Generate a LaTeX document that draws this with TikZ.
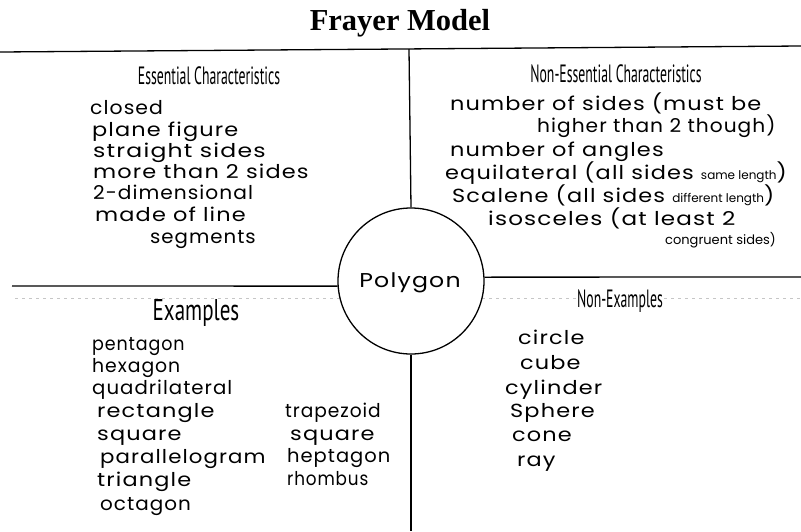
\documentclass[tikz,border=0pt]{standalone}
\usepackage{fontspec}
\usepackage{graphicx}
\setmainfont{Liberation Serif}
\newfontfamily\handfont[LetterSpace=6,FakeStretch=1.18]{Poppins}
\newfontfamily\handsmfont[LetterSpace=0]{Poppins}
\newfontfamily\headfont[FakeStretch=0.55]{PT Sans}
\newfontfamily\headwfont[FakeStretch=0.7]{PT Sans}
\newcommand\hxs[2]{\scalebox{#1}[1]{#2}}
\begin{document}
\begin{tikzpicture}[x=1pt,y=-1pt,
  rule/.style={line width=1.3pt,black},
  scanline/.style={gray!45,line width=0.6pt,dash pattern=on 3pt off 4pt},
  hand/.style={anchor=west,inner sep=0pt,font=\handfont\fontsize{19}{22}\selectfont,text height=12pt,text depth=4pt},
  hsize/.style={font=\handfont\fontsize{#1}{22}\selectfont},
  handsmall/.style={hand,font=\handsmfont\fontsize{13}{15}\selectfont},
  head/.style={inner sep=1pt,font=\headfont\fontsize{25}{28}\selectfont},
  headbig/.style={inner sep=1pt,font=\headwfont\fontsize{30}{33}\selectfont},
  title/.style={inner sep=0pt,font=\fontsize{30.5}{34}\selectfont\bfseries}]
\useasboundingbox[fill=white] (0,0) rectangle (801,531);
% title
\node[title] (title) at (400,23) {Frayer Model};
% scanner trace
\coordinate (sl1) at (15,298); \coordinate (sl2) at (340,298);
\coordinate (sr1) at (482,298); \coordinate (sr2) at (801,298);
\draw[scanline] (sl1) -- (sl2);
\draw[scanline] (sr1) -- (sr2);
% centre circle
\node[circle,draw,line width=1.3pt,minimum size=146pt,inner sep=0pt] (poly) at (411,281) {};
\node[hand,anchor=center,hsize=20] (polytext) at (410,283) {Polygon};
% frame
\coordinate (tl) at (0,52); \coordinate (tr) at (801,46);
\coordinate (tv) at (409,49); \coordinate (bv) at (411,531);
\coordinate (ml) at (12,286); \coordinate (mr) at (801,277);
\draw[rule] (tl) -- (tr);
\draw[rule] (tv) -- (poly.north);
\draw[rule] (poly.south) -- (bv);
\draw[rule] (ml) -- (poly.184);
\draw[rule] (poly.3) -- (mr);
% headers
\node[head] (h1) at (209,76) {Essential Characteristics};
\node[head] (h2) at (616,74) {Non-Essential Characteristics};
\node[headbig] (h3) at (196,313) {Examples};
\node[head,fill=white] (h4) at (620,301) {Non-Examples};
% essential
\node[hand] (e1) at (90,110) {\hxs{0.91}{closed}};
\node[hand] (e2) at (92,132) {plane figure};
\node[hand] (e3) at (93,153) {\hxs{1.05}{straight sides}};
\node[hand] (e4) at (93,174) {more than 2 sides};
\node[hand] (e5) at (93,195) {\hxs{0.9}{2-dimensional}};
\node[hand] (e6) at (95,217) {made of line};
\node[hand] (e7) at (150,239) {\hxs{0.88}{segments}};
% non-essential
\node[hand] (n1) at (450,106) {number of sides (must be};
\node[hand] (n2) at (537,128) {\hxs{0.9}{higher than 2 though)}};
\node[hand] (n3) at (450,152) {number of angles};
\node[hand] (n4) at (445,175) {equilateral (all sides {\handsmfont\fontsize{12}{14}\selectfont same length})};
\node[hand] (n5) at (452,198) {Scalene (all sides {\handsmfont\fontsize{12}{14}\selectfont different length})};
\node[hand] (n6) at (488,221) {\hxs{1.03}{isosceles (at least 2}};
\node[handsmall] (n7) at (665,240) {congruent sides)};
% examples
\node[hand] (x1) at (92,346) {\hxs{0.78}{pentagon}};
\node[hand] (x2) at (92,368) {\hxs{0.84}{hexagon}};
\node[hand] (x3) at (92,390) {\hxs{0.88}{quadrilateral}};
\node[hand] (x4) at (97,413) {rectangle};
\node[hand] (x5) at (97,436) {square};
\node[hand] (x6) at (100,459) {\hxs{0.95}{parallelogram}};
\node[hand] (x7) at (97,482) {triangle};
\node[hand] (x8) at (100,506) {\hxs{0.89}{octagon}};
\node[hand] (y1) at (285,413) {\hxs{0.83}{trapezoid}};
\node[hand] (y2) at (290,436) {square};
\node[hand] (y3) at (287,458) {\hxs{0.87}{heptagon}};
\node[hand] (y4) at (287,481) {\hxs{0.75}{rhombus}};
% non-examples
\node[hand] (z1) at (518,340) {circle};
\node[hand] (z2) at (520,365) {cube};
\node[hand] (z3) at (505,390) {cylinder};
\node[hand] (z4) at (510,413) {Sphere};
\node[hand] (z5) at (512,437) {cone};
\node[hand] (z6) at (517,462) {ray};
\end{tikzpicture}
\end{document}
